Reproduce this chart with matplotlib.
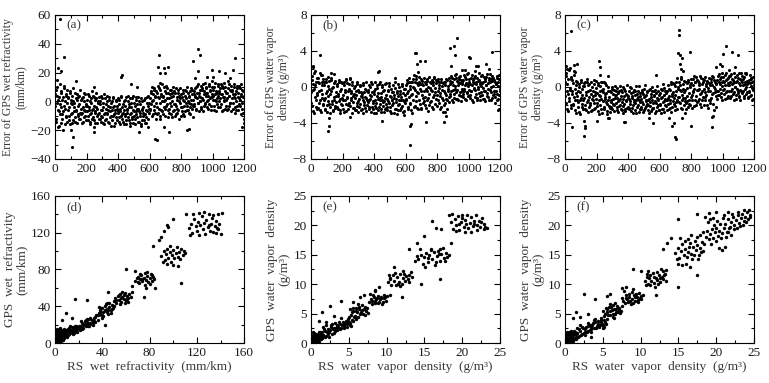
import matplotlib
matplotlib.use('Agg')
import matplotlib.pyplot as plt
import numpy as np
from matplotlib.ticker import MultipleLocator

plt.rcParams['font.family'] = ['Liberation Serif', 'DejaVu Serif']
plt.rcParams['font.size'] = 9

# sample numbers of the soundings
sample_no = np.arange(1, 1201, 4)
sample_no2 = np.arange(3, 1201, 4)

# (a) error of GPS wet refractivity, mm/km
err_a = [
    -3, 8, -12, 4, -18, 1, -7, 12, -2, -15,
    6, -9, 3, -20, 9, -5, 0, -11, 5, -14,
    -6, 2, -10, 7, -16, -1, -8, 4, -13, 0,
    -4, -11, 6, -7, 1, -15, 3, -9, -2, 8,
    -12, -5, 2, -8, -14, 0, -6, 5, -10, -3,
    -7, 1, -13, -4, 4, -9, -16, -1, -6, 7,
    -11, -3, 3, -15, -7, 2, -10, -5, 0, -12,
    -8, -2, -14, 4, -6, -11, -1, -9, -16, 2,
    -5, -12, 0, -8, -3, -15, 3, -7, -10, -1,
    -13, -4, 2, -9, -17, -6, 0, -11, -3, -8,
    -7, -14, 1, -5, -10, 4, -12, -2, -8, -16,
    -3, -9, 3, -13, -6, 0, -11, -4, -15, 2,
    -8, -1, -12, -6, 4, -10, -16, -3, -7, 1,
    -11, -5, 3, -14, -8, -2, -17, -6, 0, -10,
    -4, -13, 2, -9, -15, -1, -7, 4, -12, -5,
    2, -6, 7, -10, 0, 5, -3, 9, -8, 3,
    -1, 6, -9, 11, 2, -5, 8, -12, 4, 0,
    -7, 3, 10, -4, 1, -10, 6, -2, 9, -6,
    2, -8, 5, -3, 8, -11, 0, 4, -6, 7,
    -2, 9, -9, 3, -5, 6, 0, -12, 2, -4,
    5, -7, 1, 8, -3, -10, 4, -1, 7, -6,
    0, 6, -8, 3, -4, 9, -2, 5, -11, 1,
    7, -3, 4, 10, -6, 2, 12, -1, 6, 0,
    3, 11, -4, 8, 1, -7, 5, 13, -2, 6,
    9, 0, 4, -5, 12, 2, 7, -3, 10, 3,
    1, 8, -6, 5, 13, 0, 6, -2, 11, 4,
    7, -4, 2, 12, -7, 5, 9, 0, 3, -5,
    10, 1, -6, 6, 14, -3, 4, 8, -1, 11,
    2, 7, -5, 3, 12, -8, 5, 0, 9, -3,
    6, -2, 11, 1, -9, 4, 8, -5, 3, -12,
]
err_a2 = [
    5, -14, -1, 10, -6, -17, 3, -9, 7, -4,
    -12, 1, -7, 11, -3, -16, 4, -10, -1, 8,
    3, -13, -4, 6, -9, 1, -15, -2, 9, -7,
    -1, -14, 2, -6, 5, -10, -3, -12, 4, -8,
    1, -9, -15, 3, -4, -11, 6, -7, -2, -13,
    -3, 5, -10, -6, 0, -14, 2, -8, -12, 4,
    -5, -13, 1, -8, 6, -4, -15, -1, -9, 3,
    -12, 0, -6, -10, 2, -15, -4, 5, -8, -13,
    -2, -9, 4, -14, -6, 1, -11, -4, -17, 0,
    -6, -10, 3, -3, -15, -8, 1, -13, -5, 2,
    -11, -2, -16, -7, 3, -9, -4, -14, 0, -6,
    -10, 1, -16, -5, -8, 4, -13, -2, -9, -17,
    -4, -11, 2, -15, -7, -1, -12, 3, -9, -5,
    -2, -14, -7, 0, -10, -16, 2, -5, -13, -8,
    -9, 1, -15, -6, -11, 3, -3, -18, -8, -1,
    -5, 6, -2, 10, -9, 1, 8, -6, 4, -12,
    7, -4, 3, -8, 9, -1, -10, 5, -6, 12,
    4, -9, 0, 7, -5, 11, -3, 2, -11, 6,
    -5, 8, -1, -9, 3, 6, -7, 10, -2, -10,
    6, -3, 1, -8, 8, -6, 4, -1, 9, -10,
    -4, 3, -9, 6, 0, 8, -7, 2, -3, 10,
    -6, 4, -1, -9, 7, 1, -5, 8, -3, 5,
    -2, 9, 3, -5, 6, 11, -1, 4, -7, 8,
    0, -5, 9, 2, 12, -3, 7, -1, 4, 10,
    -4, 6, 1, 11, -2, 8, 3, -6, 5, 14,
    4, -3, 10, 1, -7, 7, 2, 12, -4, 6,
    0, 9, -2, 5, 11, -6, 3, 13, 1, 7,
    -3, 6, 2, 9, -5, 4, 12, -1, 7, -7,
    8, -1, 5, 10, -4, 2, 7, -6, 11, 3,
    -6, 2, 9, -3, 5, 12, -1, 7, -8, 4,
]
out_a = [
    (22, 23), (30, 57), (38, 21), (57, 31), (12, 15), (108, -32), (114, -25),
    (104, -20), (132, 14), (245, -21), (250, -18), (247, 10), (418, 17),
    (425, 18), (482, 12), (522, 10), (530, -21), (636, -26), (645, -27),
    (652, 24), (660, 32), (664, 20), (668, 13), (690, 23), (694, -18),
    (700, 20), (718, 24), (724, -21), (840, -20), (852, -19), (876, 28),
    (890, 16), (905, 36), (910, 21), (922, 32), (996, 22), (1000, 17),
    (1038, 21), (1080, 20), (1128, 22), (1142, 30), (1188, -18), (1196, -15),
    (965, 17), (1110, 16),
]

# (b) error of GPS water vapor density, g/m3
err_b = [
    -0.6, 1.2, -2.1, 0.3, -2.9, -0.2, 1.8, -1.4, 0.6, -2.5,
    -0.9, 1.0, -1.8, 0.4, -2.6, -0.3, 1.3, -1.2, 0.2, -2.0,
    -1.5, 0.5, -2.4, -0.7, 0.9, -2.8, -1.0, 0.1, -1.9, 0.7,
    -2.2, -0.4, 0.8, -1.6, -2.7, 0.0, -1.1, 1.4, -2.3, -0.6,
    -1.7, 0.3, -2.5, -0.8, 0.6, -1.3, -2.9, -0.2, -1.9, 0.4,
    -0.9, -2.4, 0.5, -1.5, -0.3, -2.7, 0.8, -1.2, -2.0, -0.5,
    -1.8, 0.9, -3.3, -0.7, -1.4, 0.2, -2.3, -1.0, -0.1, -2.6,
    -1.2, -0.4, -2.1, 0.3, -1.6, -2.8, -0.6, -1.9, 0.1, -1.0,
    -2.4, -0.8, -1.5, 0.4, -2.0, -1.1, -0.2, -2.7, -1.4, -0.5,
    -1.7, 0.2, -2.5, -0.9, -1.3, 0.5, -2.2, -0.6, -1.8, -2.9,
    -0.4, -1.5, 0.6, -2.3, -1.0, -0.1, -2.6, -1.2, 0.3, -1.9,
    -2.8, -0.7, -1.4, 0.2, -2.1, -1.6, -0.3, -2.5, -0.9, 0.4,
    -1.3, -2.2, -0.5, -1.8, 0.1, -2.7, -1.1, -0.2, -2.0, -1.5,
    -0.6, -2.9, -1.2, 0.5, -1.7, -2.4, -0.4, -1.0, -2.6, 0.0,
    -1.9, -0.8, -2.3, -1.4, 0.3, -2.8, -0.7, -1.6, -3.1, -0.2,
    0.2, -1.3, 0.8, -2.2, -0.4, 0.5, -1.8, 0.1, -2.6, -0.9,
    0.6, -1.5, 0.0, 1.3, -2.1, -0.3, 0.9, -1.0, 0.4, -2.4,
    -0.7, 1.1, -1.9, 0.3, -0.5, -2.3, 0.7, -1.2, 0.2, -1.6,
    0.5, -2.0, -0.2, 0.9, -1.4, -2.7, 0.0, -0.8, 0.6, -1.7,
    -0.3, 0.8, -2.2, 0.2, -1.1, 1.0, -0.6, -1.9, 0.4, -0.9,
    0.7, -1.5, -0.1, 0.5, -2.4, -0.7, 0.9, -1.2, 0.1, -2.8,
    -0.4, 0.6, -1.8, 0.2, -0.9, 0.8, -1.4, -0.2, 1.0, -1.1,
    0.3, -0.8, 1.2, -1.5, 0.5, -0.3, 0.9, -1.2, 0.1, 1.4,
    -0.6, 0.7, -1.3, 0.2, 1.1, -0.9, 0.4, -1.6, 0.8, -0.2,
    0.5, -1.1, 1.3, -0.4, 0.2, -1.5, 0.9, -0.7, 0.3, 1.6,
    -0.3, 0.6, -1.2, 1.0, -0.5, 0.2, -1.7, 0.8, -0.1, 0.4,
    1.2, -0.8, 0.3, -1.4, 0.7, -0.2, 1.5, -1.0, 0.5, -0.6,
    0.1, 1.3, -1.3, 0.6, -0.4, 0.9, -1.6, 0.2, 1.1, -0.7,
    0.4, -1.1, 0.8, -0.3, 1.4, -1.5, 0.0, 0.7, -0.9, 1.0,
    -0.5, 0.6, -1.8, 0.3, 1.2, -0.8, 0.1, -1.3, 0.9, -0.2,
]
err_b2 = [
    -1.8, 0.8, -0.3, -2.7, 1.5, -1.1, 0.2, -2.2, 1.0, -0.7,
    0.5, -2.3, -0.4, 1.6, -1.5, -2.8, 0.6, -0.8, -1.9, 0.9,
    0.2, -1.2, -2.6, 0.6, -0.5, -2.0, 1.1, -1.6, -0.2, -2.9,
    -0.8, 1.0, -1.9, -0.1, -2.6, 0.4, -1.4, -2.1, 0.7, -1.0,
    0.1, -2.2, -1.0, 0.8, -1.6, -0.4, -2.6, 0.5, -1.2, -2.0,
    -1.4, 0.2, -2.8, -0.6, 0.9, -1.9, -1.1, 0.4, -2.5, -0.2,
    0.3, -2.1, -1.2, -0.4, -2.9, 0.6, -1.7, -0.8, -2.3, 0.1,
    -2.6, -0.9, 0.5, -1.8, -0.3, -2.2, -1.3, 0.2, -2.6, -0.6,
    -1.1, -2.9, 0.2, -1.7, -0.6, -2.3, 0.5, -1.2, -2.0, -0.3,
    -0.6, -2.2, -1.5, 0.0, -2.8, -1.0, 0.3, -1.6, -2.4, -0.8,
    -2.1, -0.2, -1.8, -2.9, 0.2, -1.3, -0.7, -2.2, -1.5, 0.5,
    -1.1, -2.4, 0.0, -1.7, -0.5, -2.8, -1.2, 0.3, -1.9, -2.3,
    -2.6, -0.3, -1.6, 0.4, -2.2, -1.0, -2.9, -0.6, -1.4, 0.2,
    -1.8, -0.9, -2.5, -0.1, -1.3, -3.0, -0.7, -2.0, 0.3, -1.5,
    -0.4, -2.6, -1.1, 0.1, -2.1, -1.5, -0.2, -2.7, -0.9, -1.8,
    -1.5, 0.4, -0.7, -2.5, 1.0, -1.1, -0.2, -1.9, 0.6, -2.9,
    -0.8, 0.9, -2.2, -0.1, 0.5, -1.6, 1.2, -0.6, -2.3, 0.2,
    0.6, -1.4, -0.2, -2.5, 0.9, -0.9, 0.3, -1.8, 1.0, -0.4,
    -1.1, 0.3, -2.3, 0.7, -0.5, -1.2, 1.1, -2.0, -0.1, 0.4,
    -1.6, -0.4, 0.6, -2.5, 1.1, -0.9, -0.1, -1.3, 0.8, -2.1,
    -0.5, 0.9, -1.8, 0.2, -1.0, -2.2, 0.6, -0.3, -1.5, 0.4,
    -2.0, -0.7, 0.5, -1.3, 0.9, -2.5, 0.1, -0.5, -1.7, 0.7,
    -1.0, 0.6, -0.4, 1.0, -1.7, 0.2, -0.8, 1.3, -0.2, -1.3,
    1.0, -0.3, 0.5, -1.5, 0.9, -0.6, 1.2, -1.0, 0.3, -0.5,
    -0.8, 0.8, -0.2, 1.1, -1.3, 0.4, -0.6, 1.4, -1.0, 0.1,
    0.9, -0.9, 0.3, -0.4, 1.3, -1.4, 0.6, -0.2, 1.0, -1.1,
    -0.3, 0.5, -1.2, 1.0, 0.0, -0.7, 0.8, -1.5, 0.3, 1.2,
    -0.9, 0.4, -0.1, 1.1, -1.3, 0.7, -0.5, 0.2, -1.0, 1.4,
    -0.2, 1.0, -1.4, 0.5, -0.6, 0.9, -1.2, 1.2, 0.1, -0.8,
    0.8, -1.1, 0.3, -0.5, 1.0, -1.5, 0.5, -0.9, 1.3, -0.4,
]
out_b = [
    (15, 2.3), (10, 2.2), (60, 3.6), (70, 1.3), (108, -4.9), (115, -4.3),
    (112, -3.5), (130, 1.6), (245, 1.0), (430, 1.8), (425, 1.7), (452, -3.8),
    (530, 1.0), (628, -4.3), (634, -4.1), (630, -6.5), (660, 3.8), (665, 3.8),
    (670, 2.5), (690, 2.9), (680, 1.7), (722, 2.9), (730, -3.9), (842, -3.9),
    (855, -3.2), (850, -2.8), (880, 4.3), (905, 4.5), (916, 3.6), (925, 5.4),
    (890, 2.3), (960, 1.9), (975, 1.9), (1000, 3.3), (1008, 3.2), (1040, 1.8),
    (1060, 2.3), (1110, 2.6), (1150, 3.9), (1130, 2.0), (1185, -2.6),
    (1195, -2.5), (1045, 2.3),
]

# (c) error of GPS water vapor density, g/m3 (second method)
err_c = [
    0.6, -1.8, 1.5, -0.4, -2.7, 0.9, -1.2, 2.1, -0.1, -2.3,
    1.1, -0.8, -2.0, 0.4, 1.8, -1.5, -0.2, -2.9, 0.7, -1.0,
    -0.5, -2.2, 0.3, -1.4, -3.0, 0.8, -0.9, -1.9, 0.1, -2.5,
    -1.2, 0.5, -2.4, -0.6, 0.9, -1.7, -2.8, 0.2, -1.1, -0.3,
    -2.0, 0.6, -1.3, -2.6, -0.4, 0.3, -1.8, -0.9, -2.3, 0.7,
    -0.7, -2.1, 0.4, -1.5, -3.0, 0.1, -1.0, -2.4, 0.6, -0.3,
    -1.6, 0.5, -2.2, -0.8, -1.3, 0.2, -2.7, -1.9, -0.5, -3.4,
    -1.1, -2.3, -0.6, -1.7, 0.0, -2.5, -1.3, -0.3, -2.0, -0.9,
    -1.8, -0.4, -2.6, -1.2, -0.7, -2.1, -1.5, 0.1, -2.4, -1.0,
    -0.6, -2.9, -1.3, -0.2, -1.9, -2.5, -0.8, -1.4, 0.2, -2.2,
    -1.0, -0.5, -2.3, -1.6, -0.1, -2.7, -1.2, -0.6, -2.0, -1.4,
    -2.6, -0.9, -1.5, 0.1, -2.2, -1.1, -0.4, -2.8, -1.7, -0.7,
    -1.3, -2.4, -0.3, -1.9, -0.8, -2.6, -1.0, 0.2, -2.1, -1.5,
    -0.6, -2.0, -1.4, -2.9, -0.2, -1.7, -1.1, -2.5, -0.5, -1.8,
    -2.3, -0.9, -1.6, -0.3, -2.7, -1.2, 0.1, -2.0, -1.4, -2.6,
    -0.7, -1.9, -0.2, -2.4, -1.1, 0.3, -1.6, -2.8, -0.5, -1.3,
    -2.1, -0.4, -1.5, 0.2, -2.5, -1.0, -0.3, -1.8, 0.5, -2.2,
    -0.8, 0.4, -1.9, -1.2, 0.1, -2.6, -0.5, 1.0, -1.4, -0.2,
    0.6, -1.7, -0.3, -2.3, 0.9, -0.9, -1.5, 0.3, -2.0, -0.6,
    -1.2, 0.5, -2.4, -0.1, -1.6, 0.8, -0.7, -1.9, 0.2, -1.1,
    0.4, -1.4, -0.5, 0.9, -2.1, -0.2, 0.6, -1.0, 1.1, -1.7,
    -0.3, 0.7, -1.3, 0.2, -0.8, 1.0, -2.2, -0.4, 0.5, -1.1,
    0.8, -0.6, -1.5, 0.3, -0.9, 0.6, -2.3, -0.1, 0.4, -1.8,
    -0.4, 0.9, -1.2, 0.2, -0.7, 1.1, -2.6, -0.2, 0.5, -1.0,
    0.3, -0.5, 1.2, -0.9, 0.6, -0.2, 0.9, -1.1, 0.1, 1.5,
    -0.3, 0.7, -0.8, 1.3, 0.2, -0.6, 0.9, -1.2, 0.4, 1.0,
    -0.5, 0.6, 1.2, -1.0, 0.3, -0.2, 0.8, -1.4, 0.5, 1.1,
    0.0, -0.9, 0.7, 1.3, -0.4, 0.4, -1.1, 0.9, -0.3, 1.5,
    0.6, -0.7, 0.2, 1.1, -1.0, 0.5, -0.2, 1.4, -0.6, 0.3,
    -1.2, 0.8, -0.4, 0.4, -0.9, 1.0, -0.1, 0.6, -1.3, 0.2,
]
err_c2 = [
    -1.0, 1.2, -2.5, 0.3, -0.8, 1.9, -1.6, -0.3, 0.9, -2.0,
    -0.4, 0.8, -1.9, -1.1, 1.3, -2.6, 0.2, -0.7, -1.4, 0.5,
    -1.7, 0.0, -2.8, -0.6, 0.6, -1.2, -2.2, -0.2, -1.5, 0.4,
    0.1, -2.0, -0.9, -2.6, 0.6, -1.4, -0.5, -2.2, 0.3, -1.8,
    -0.8, -2.7, 0.0, -1.5, -1.0, 0.8, -2.5, -0.6, -1.3, -0.1,
    -1.8, 0.2, -2.7, -0.9, -0.4, -2.0, 0.5, -1.3, -2.9, -0.6,
    -0.2, -2.4, -1.1, 0.4, -1.7, -0.7, -3.0, 0.0, -1.4, -2.1,
    -2.8, -0.5, -1.5, -2.2, -0.2, -1.9, -0.8, -2.7, -1.2, 0.1,
    -0.9, -2.2, -0.1, -1.6, -2.8, -0.5, -1.3, -2.0, -0.3, -2.6,
    -1.7, 0.0, -2.1, -1.0, -2.7, -0.4, -1.6, -2.3, -0.9, -1.2,
    -2.5, -1.3, 0.0, -1.9, -0.7, -2.3, -1.0, -2.9, -0.3, -1.7,
    -0.4, -1.8, -2.9, -0.8, -1.3, -2.0, 0.1, -1.5, -2.4, -1.0,
    -2.2, -0.6, -1.7, -2.8, -0.2, -1.1, -2.3, -0.9, -1.6, -0.4,
    -1.9, -2.6, -0.3, -1.3, -2.1, -0.8, -2.7, -1.5, 0.0, -2.3,
    -1.0, -0.4, -2.9, -1.8, -0.7, -2.2, -1.3, -0.5, -2.6, -0.9,
    -2.0, -1.2, -2.9, -0.3, -1.7, -2.4, -0.9, -0.1, -2.0, -1.5,
    -0.7, -2.6, -1.2, -1.9, -0.2, -2.3, -1.4, 0.3, -2.8, -1.0,
    -1.6, -0.6, 0.3, -2.1, -0.9, -1.7, 0.6, -2.4, -1.1, 0.0,
    -1.1, 0.2, -1.8, -0.5, 1.1, -2.5, -0.2, -1.2, 0.7, -1.6,
    -0.3, -1.8, 0.4, -1.0, -2.2, 0.6, -1.4, 0.0, -2.0, 0.9,
    -0.9, -2.3, 0.2, -0.6, 1.2, -1.5, 0.5, -2.0, -0.3, 0.8,
    -1.6, 0.4, -0.2, -1.9, 1.2, -0.7, 0.3, -1.4, 0.9, -2.0,
    -0.2, 1.1, -1.1, 0.1, -2.0, 0.7, -0.5, 1.0, -1.4, 0.2,
    -1.5, 0.5, -0.8, 1.2, -1.9, 0.0, 0.8, -0.6, -2.2, 0.4,
    -1.3, 0.8, -0.4, 1.4, -0.9, 0.3, 1.1, -0.7, 0.6, -1.5,
    1.1, -0.2, 0.5, -1.3, 0.8, 1.6, -0.5, 0.2, -1.0, 1.2,
    0.2, -1.2, 1.4, -0.4, 0.9, -0.8, 0.4, 1.5, -0.6, 0.0,
    -1.3, 0.6, -0.2, 1.0, -0.7, 1.6, -1.0, 0.2, 0.8, -0.5,
    1.2, -0.4, 0.9, -1.2, 0.3, 1.5, -0.8, 0.0, 0.7, -1.1,
    0.5, -0.6, 1.3, -1.0, 0.1, 0.9, -1.4, 1.1, -0.3, 0.7,
]
out_c = [
    (8, 2.3), (12, 2.0), (40, 6.2), (45, -4.5), (60, 2.4), (65, 1.7),
    (75, 2.6), (120, -5.4), (125, -4.3), (130, -4.6), (118, -3.8), (200, -3.8),
    (218, 2.9), (220, 2.2), (222, 1.3), (270, 1.2), (270, -3.5), (375, -3.9),
    (380, -3.9), (530, -3.5), (560, -4.0), (578, 1.3), (660, -3.4),
    (680, -4.3), (690, -4.0), (700, -5.6), (705, -5.8), (720, 3.8),
    (722, 6.3), (726, 5.8), (728, 3.6), (732, 2.6), (738, 2.0), (745, 3.2),
    (750, 1.8), (740, -3.5), (790, 3.9), (800, -4.3), (760, -2.9),
    (930, -4.4), (935, -3.3), (940, -3.2), (960, 2.2), (985, 2.6),
    (995, 2.3), (1000, 3.7), (1020, 4.5), (1040, 1.9), (1060, 3.9),
    (1080, 2.2), (1100, 3.5), (1150, 1.6), (1110, -1.4),
]

# (d) RS vs GPS wet refractivity, mm/km  (rs, gps)
pts_d = [
    (0.5, 2), (1, 5), (1.5, 1), (2, 8), (2.5, 3), (3, 6), (3.5, 0.5), (4, 10),
    (4.5, 4), (5, 7), (1, 9), (2, 12), (3, 2), (0.5, 6), (1.5, 4), (2.5, 10),
    (3.5, 8), (4, 1.5), (5, 11), (5.5, 5), (6, 9), (6.5, 3), (7, 12), (7.5, 7),
    (8, 10), (0.8, 3), (1.8, 7), (2.8, 5), (3.8, 11), (4.8, 2.5), (5.8, 13),
    (6.8, 6), (7.8, 9), (0.3, 1), (1.2, 2.5), (2.2, 1.5), (3.2, 4), (4.2, 6),
    (5.2, 3), (6.2, 8), (7.2, 4.5), (8.5, 13), (9, 8), (9.5, 11), (1, 13),
    (2, 15), (3, 14), (0.5, 4), (1.5, 11), (2.5, 7), (3.5, 3), (4.5, 9),
    (5.5, 14), (6.5, 11), (7.5, 5), (8, 15), (9, 12), (10, 9), (0.2, 8), (4, 16),
    (10, 13), (11, 9), (12, 16), (13, 11), (14, 14), (15, 10), (16, 17),
    (17, 13), (18, 15), (19, 12), (11, 15), (12, 10), (13, 18), (14, 12),
    (15, 15), (16, 11), (17, 18), (18, 14), (19, 17), (20, 15), (10, 7),
    (12, 13), (14, 17), (16, 14), (18, 19), (20, 18), (9, 14), (13, 14),
    (15, 12), (17, 16),
    (21, 19), (22, 17), (23, 22), (24, 20), (25, 24), (26, 18), (27, 23),
    (28, 21), (29, 26), (30, 22), (31, 25), (32, 20), (33, 27), (34, 23),
    (22, 24), (24, 16), (26, 25), (28, 19), (30, 27), (32, 23), (34, 28),
    (21, 14), (25, 21), (27, 26), (29, 18), (31, 21), (33, 24), (35, 30),
    (23, 15), (36, 25),
    (37, 33), (38, 36), (39, 31), (40, 38), (41, 34), (42, 40), (43, 35),
    (44, 37), (45, 32), (46, 39), (47, 36), (48, 41), (36, 30), (39, 38),
    (41, 29), (43, 42), (45, 36), (47, 33), (49, 38), (38, 34), (40, 31),
    (42, 36), (44, 34), (46, 43), (48, 37), (40, 27), (42, 20), (44, 44),
    (37, 39), (50, 40),
    (50, 46), (51, 49), (52, 43), (53, 51), (54, 47), (55, 53), (56, 45),
    (57, 50), (58, 48), (59, 54), (60, 46), (61, 51), (62, 49), (63, 53),
    (64, 50), (52, 47), (55, 42), (57, 55), (59, 44), (61, 48), (54, 52),
    (56, 49), (58, 52), (62, 45), (65, 55),
    (68, 68), (70, 72), (71, 65), (72, 70), (73, 74), (74, 67), (75, 71),
    (76, 76), (77, 69), (78, 73), (79, 66), (80, 71), (81, 75), (82, 68),
    (83, 72), (70, 66), (72, 75), (74, 70), (76, 63), (78, 77), (80, 64),
    (82, 74), (84, 70), (69, 71), (77, 60),
    (90, 95), (92, 100), (93, 90), (94, 97), (95, 102), (96, 93), (97, 99),
    (98, 88), (99, 96), (100, 101), (101, 92), (102, 98), (103, 104),
    (104, 94), (105, 99), (106, 91), (107, 102), (108, 96), (109, 100),
    (110, 98), (91, 88), (95, 86), (100, 85), (104, 84), (97, 105),
    (113, 125), (115, 130), (116, 120), (118, 135), (119, 127), (120, 122),
    (121, 132), (122, 118), (123, 128), (124, 138), (125, 124), (126, 131),
    (127, 119), (128, 134), (129, 126), (130, 140), (131, 122), (132, 129),
    (133, 136), (134, 121), (135, 127), (136, 133), (137, 125), (138, 140),
    (139, 130), (140, 119), (117, 140), (122, 141), (126, 142), (130, 128),
    (134, 139), (136, 120), (138, 124), (141, 141), (114, 118),
    (17, 48), (27, 47), (9, 33), (6, 25), (14, 27), (45, 55), (60, 80),
    (68, 78), (83, 105), (90, 115), (92, 122), (95, 128), (100, 135),
    (111, 140), (107, 65), (75, 50), (85, 60), (96, 126), (88, 112), (65, 62),
]

# (e) RS vs GPS water vapor density, g/m3
pts_e = [
    (0.1, 0.2), (0.2, 0.6), (0.3, 1.0), (0.4, 0.3), (0.5, 1.4), (0.6, 0.7),
    (0.7, 0.1), (0.8, 1.1), (0.9, 0.5), (1.0, 1.6), (0.15, 0.9), (0.25, 1.3),
    (0.35, 0.4), (0.45, 1.7), (0.55, 0.2), (0.65, 1.2), (0.75, 0.8),
    (0.85, 0.3), (0.95, 1.4), (1.1, 0.6), (1.2, 1.0), (1.3, 1.5), (1.4, 0.8),
    (1.5, 1.2), (0.1, 1.2), (0.2, 0.1), (0.3, 0.7), (0.5, 0.5), (0.7, 1.6),
    (0.9, 0.9), (1.1, 1.8), (1.3, 0.7), (1.5, 1.8), (0.4, 1.1), (0.6, 0.2),
    (0.8, 0.4), (1.0, 0.2), (1.2, 1.9), (0.05, 0.5), (0.3, 1.8),
    (1.6, 1.4), (1.8, 2.0), (2.0, 1.2), (2.2, 2.4), (2.4, 1.8), (2.6, 2.8),
    (2.8, 1.6), (3.0, 2.5), (3.2, 2.0), (3.4, 2.9), (1.7, 2.3), (1.9, 1.0),
    (2.1, 1.9), (2.3, 1.5), (2.5, 2.2), (2.7, 3.1), (2.9, 2.3), (3.1, 1.7),
    (3.3, 2.6), (3.5, 2.2), (1.6, 2.7), (2.0, 3.0), (2.4, 1.1), (2.8, 3.3),
    (3.2, 3.4),
    (3.6, 2.8), (3.8, 3.3), (4.0, 2.6), (4.2, 3.5), (4.4, 3.0), (4.6, 3.8),
    (4.8, 3.2), (5.0, 3.6), (5.2, 3.0), (5.4, 3.9), (3.7, 3.6), (3.9, 2.4),
    (4.1, 3.1), (4.3, 2.7), (4.5, 3.4), (4.7, 2.8), (4.9, 4.0), (5.1, 3.4),
    (5.3, 2.9), (5.5, 3.7), (3.5, 3.1), (4.0, 4.2), (4.4, 2.5), (4.8, 3.6),
    (5.0, 4.4),
    (5.3, 4.8), (5.5, 5.5), (5.7, 4.5), (5.9, 5.9), (6.1, 5.2), (6.3, 6.1),
    (6.5, 4.9), (6.7, 5.6), (6.9, 5.0), (7.1, 6.2), (7.3, 5.4), (5.4, 5.2),
    (5.6, 6.0), (5.8, 4.6), (6.0, 5.4), (6.2, 4.4), (6.4, 5.8), (6.6, 5.3),
    (6.8, 6.4), (7.0, 5.7), (7.2, 4.8), (7.4, 6.0), (6.2, 6.6), (5.2, 5.8),
    (7.6, 5.1),
    (7.7, 6.9), (7.9, 7.5), (8.1, 6.6), (8.3, 7.8), (8.5, 7.1), (8.7, 7.6),
    (8.9, 6.8), (9.1, 7.4), (9.3, 7.9), (9.5, 7.0), (9.7, 7.6), (9.9, 7.2),
    (8.0, 7.2), (8.2, 8.1), (8.4, 6.8), (8.6, 7.4), (8.8, 8.0), (9.0, 7.0),
    (9.2, 7.7), (9.4, 6.7), (9.6, 8.2), (9.8, 7.9), (10.0, 8.0), (7.8, 8.3),
    (8.5, 8.8),
    (10.2, 10.3), (10.4, 11.0), (10.6, 9.8), (10.8, 11.5), (11.0, 10.6),
    (11.2, 9.9), (11.4, 11.2), (11.6, 10.4), (11.8, 11.8), (12.0, 10.1),
    (12.2, 11.0), (12.4, 10.5), (12.6, 11.4), (12.8, 10.8), (13.0, 11.6),
    (10.5, 10.8), (11.1, 11.9), (11.7, 9.7), (12.3, 11.7), (12.9, 10.3),
    (13.2, 12.0), (13.4, 11.2), (10.3, 11.6), (11.5, 10.0), (12.1, 12.3),
    (14.2, 14.3), (14.5, 15.0), (14.8, 13.5), (15.0, 14.6), (15.2, 15.3),
    (15.4, 13.8), (15.6, 14.9), (15.8, 16.0), (16.0, 14.2), (16.2, 15.4),
    (16.4, 13.3), (16.6, 14.8), (16.8, 15.6), (17.0, 14.0), (17.2, 15.1),
    (17.4, 16.2), (17.6, 14.5), (17.8, 15.3), (18.0, 14.7), (14.0, 14.8),
    (14.4, 16.0), (15.1, 12.9), (15.9, 15.8), (16.5, 13.8), (17.1, 16.0),
    (17.7, 13.9), (18.2, 15.0), (13.8, 14.0), (16.9, 15.2), (15.5, 14.4),
    (18.5, 20.5), (18.8, 19.4), (19.0, 21.0), (19.2, 20.0), (19.4, 21.6),
    (19.6, 19.2), (19.8, 20.6), (20.0, 21.2), (20.2, 19.8), (20.4, 20.9),
    (20.6, 21.8), (20.8, 19.5), (21.0, 20.4), (21.2, 21.4), (21.4, 19.9),
    (21.6, 20.7), (21.8, 21.7), (22.0, 20.1), (22.2, 20.8), (22.4, 19.7),
    (22.6, 21.2), (22.8, 20.3), (23.0, 19.8), (19.1, 19.0), (19.9, 21.8),
    (20.5, 20.2), (21.1, 18.9), (21.9, 19.2), (22.5, 20.6), (18.7, 21.9),
    (20.3, 18.9), (21.5, 20.3), (22.9, 19.3), (19.5, 20.3), (23.2, 19.5),
    (1.5, 5.2), (2.5, 6.3), (4.0, 7.2), (1.0, 3.8), (2.0, 3.5), (3.0, 4.6),
    (5.5, 7.0), (6.5, 7.8), (7.0, 8.2), (8.5, 9.0), (9.0, 9.6), (11.0, 13.0),
    (12.0, 7.8), (13.0, 16.0), (14.5, 10.0), (14.0, 17.0), (15.0, 18.2),
    (16.0, 20.8), (16.5, 19.5), (17.0, 10.8), (17.2, 19.3), (18.5, 17.0),
    (18.2, 21.8), (6.0, 4.0), (10.5, 8.2),
]

# (f) RS vs GPS water vapor density, g/m3 (second method)
pts_f = [
    (0.1, 0.4), (0.2, 1.0), (0.3, 0.2), (0.4, 1.5), (0.5, 0.8), (0.6, 0.3),
    (0.7, 1.2), (0.8, 0.6), (0.9, 1.7), (1.0, 0.9), (0.15, 0.1), (0.25, 0.7),
    (0.35, 1.3), (0.45, 0.5), (0.55, 1.8), (0.65, 1.0), (0.75, 0.4),
    (0.85, 1.4), (0.95, 0.2), (1.1, 1.3), (1.2, 0.7), (1.3, 1.9), (1.4, 1.1),
    (1.5, 0.6), (0.1, 1.6), (0.2, 0.5), (0.3, 1.9), (0.5, 1.1), (0.7, 0.6),
    (0.9, 1.2), (1.1, 0.4), (1.3, 1.5), (1.5, 1.6), (0.4, 0.9), (0.6, 1.6),
    (0.8, 2.0), (1.0, 1.5), (1.2, 2.1), (0.05, 0.9), (0.3, 0.6),
    (1.6, 1.7), (1.8, 1.2), (2.0, 2.1), (2.2, 1.6), (2.4, 2.5), (2.6, 1.9),
    (2.8, 2.7), (3.0, 2.0), (3.2, 3.0), (3.4, 2.4), (1.7, 1.0), (1.9, 2.4),
    (2.1, 1.4), (2.3, 2.8), (2.5, 1.7), (2.7, 2.3), (2.9, 1.8), (3.1, 2.9),
    (3.3, 2.2), (3.5, 3.1), (1.6, 2.5), (2.0, 3.1), (2.6, 1.3), (3.0, 3.4),
    (3.4, 1.9),
    (3.6, 3.0), (3.8, 2.6), (4.0, 3.5), (4.2, 2.9), (4.4, 3.8), (4.6, 3.1),
    (4.8, 3.6), (5.0, 3.0), (5.2, 3.9), (5.4, 3.3), (3.7, 3.4), (3.9, 3.9),
    (4.1, 2.5), (4.3, 3.3), (4.5, 2.8), (4.7, 3.9), (4.9, 3.3), (5.1, 2.7),
    (5.3, 3.6), (5.5, 4.1), (3.5, 2.7), (4.0, 4.1), (4.4, 3.0), (4.8, 4.3),
    (5.0, 2.5),
    (5.3, 5.0), (5.5, 5.7), (5.7, 4.7), (5.9, 5.4), (6.1, 6.1), (6.3, 5.0),
    (6.5, 5.8), (6.7, 5.3), (6.9, 6.3), (7.1, 5.6), (7.3, 5.1), (5.4, 6.0),
    (5.6, 5.3), (5.8, 6.2), (6.0, 4.8), (6.2, 5.6), (6.4, 6.5), (6.6, 4.9),
    (6.8, 5.7), (7.0, 5.2), (7.2, 6.0), (7.4, 5.5), (6.0, 6.7), (5.2, 4.6),
    (6.6, 6.8), (5.0, 5.4), (7.5, 6.3), (6.3, 4.5),
    (7.7, 7.2), (7.9, 6.8), (8.1, 7.7), (8.3, 7.0), (8.5, 7.9), (8.7, 6.7),
    (8.9, 7.5), (9.1, 8.1), (9.3, 7.2), (9.5, 7.8), (9.7, 6.9), (9.9, 7.6),
    (10.1, 8.0), (8.0, 8.2), (8.2, 7.4), (8.4, 8.4), (8.6, 7.2), (8.8, 8.6),
    (9.0, 6.8), (9.2, 7.9), (9.4, 8.3), (9.6, 7.3), (9.8, 8.5), (10.0, 7.4),
    (10.3, 8.2), (7.6, 7.6), (7.8, 8.8), (9.0, 9.2),
    (10.6, 10.5), (10.8, 11.2), (11.0, 10.0), (11.2, 11.5), (11.4, 10.6),
    (11.6, 11.9), (11.8, 10.2), (12.0, 11.1), (12.2, 10.7), (12.4, 11.6),
    (12.6, 10.4), (12.8, 11.3), (13.0, 10.9), (13.2, 11.7), (11.1, 11.0),
    (11.3, 9.8), (11.7, 11.3), (12.1, 12.1), (12.5, 11.0), (12.9, 12.2),
    (13.3, 10.6), (10.7, 9.9), (11.9, 9.6), (12.7, 12.5), (13.4, 12.4),
    (10.9, 11.7), (12.3, 10.0), (13.1, 11.5),
    (14.6, 15.3), (14.9, 16.2), (15.1, 14.5), (15.3, 15.6), (15.5, 16.8),
    (15.7, 15.0), (15.9, 16.0), (16.1, 14.6), (16.3, 15.5), (16.5, 17.0),
    (16.7, 15.2), (16.9, 16.3), (17.1, 14.9), (17.3, 15.8), (17.5, 16.6),
    (17.7, 15.0), (17.9, 16.1), (18.1, 17.2), (18.3, 15.6), (15.0, 13.5),
    (15.4, 13.2), (16.0, 13.4), (16.4, 16.4), (16.8, 14.2), (17.2, 17.4),
    (17.6, 14.3), (18.0, 15.4), (18.4, 16.8), (14.8, 14.2), (15.8, 17.3),
    (16.6, 18.3), (17.4, 18.0), (15.2, 17.8), (16.2, 17.6), (17.8, 18.4),
    (18.6, 18.0), (18.8, 19.0), (19.0, 17.6), (19.2, 18.5), (19.4, 19.3),
    (19.6, 17.9), (19.8, 18.8), (20.0, 19.6), (20.2, 18.2), (20.4, 19.1),
    (20.6, 17.8), (20.8, 18.7), (21.0, 19.5), (19.1, 21.0), (19.5, 21.2),
    (18.5, 21.5), (18.9, 20.5), (20.1, 20.8), (20.5, 20.2), (20.9, 21.3),
    (19.3, 16.8), (20.3, 16.2), (20.7, 15.8), (21.1, 16.4), (18.2, 18.9),
    (19.7, 20.0), (21.3, 18.1), (21.5, 18.9), (21.7, 19.6), (19.9, 17.3),
    (21.2, 20.2), (21.5, 21.0), (21.8, 19.8), (22.0, 20.6), (22.2, 21.4),
    (22.4, 20.0), (22.6, 20.9), (22.8, 21.7), (23.0, 20.4), (23.2, 21.2),
    (23.4, 22.0), (23.6, 20.8), (23.8, 21.5), (24.0, 22.2), (24.2, 21.0),
    (24.4, 21.8), (21.4, 18.8), (21.9, 18.3), (22.3, 19.3), (22.7, 19.6),
    (23.1, 19.9), (23.5, 20.1), (23.9, 20.6), (24.3, 22.6), (22.1, 22.0),
    (22.9, 22.3), (23.7, 22.6), (24.5, 21.4), (21.0, 21.8), (21.6, 22.2),
    (1.5, 5.2), (2.5, 8.3), (1.0, 4.2), (2.0, 4.5), (3.0, 5.0), (4.0, 7.5),
    (5.5, 8.0), (6.0, 8.4), (7.5, 9.3), (8.0, 9.5), (9.0, 12.5), (10.0, 12.3),
    (11.0, 12.2), (12.0, 8.2), (13.0, 16.0), (13.5, 17.0), (14.0, 17.8),
    (15.0, 21.0), (15.0, 9.5), (17.5, 11.5), (17.5, 22.0), (16.5, 13.0),
    (19.0, 22.1), (20.0, 22.2), (3.5, 1.0), (5.0, 3.0), (6.5, 4.2),
]

fig = plt.figure(figsize=(7.69, 3.83), dpi=100)

# axes boxes in figure fractions
col_left = [0.0715, 0.4044, 0.7347]
col_w = 0.246
top_row = (0.585, 0.376)
bot_row = (0.1044, 0.384)

label_col = '#3a3a3a'
dot_top = dict(s=5, c='black', marker='o', linewidths=0)
dot_bot = dict(s=6, c='black', marker='o', linewidths=0)


def style(ax, xlim, xmaj, ylim, ymaj):
    ax.set_xlim(*xlim)
    ax.set_ylim(*ylim)
    ax.xaxis.set_major_locator(MultipleLocator(xmaj))
    ax.xaxis.set_minor_locator(MultipleLocator(xmaj / 2))
    ax.yaxis.set_major_locator(MultipleLocator(ymaj))
    ax.yaxis.set_minor_locator(MultipleLocator(ymaj / 2))
    ax.tick_params(which='both', direction='in', top=True, right=True,
                   labelsize=9.5, labelcolor='#1a1a1a', width=0.8, pad=3)
    ax.tick_params(which='major', length=4)
    ax.tick_params(which='minor', length=2)
    for sp in ax.spines.values():
        sp.set_linewidth(0.8)


# top row: errors vs sample number
top_data = [(err_a, err_a2, out_a), (err_b, err_b2, out_b),
            (err_c, err_c2, out_c)]
top_ylim = [(-40, 60), (-8, 8), (-8, 8)]
top_ymaj = [20, 4, 4]
top_ylabel = ['Error of GPS wet refractivity\n(mm/km)',
              'Error of GPS water vapor\ndensity (g/m³)',
              'Error of GPS water vapor\ndensity (g/m³)']
top_tag = ['(a)', '(b)', '(c)']

for i in range(3):
    ax = fig.add_axes([col_left[i], top_row[0], col_w, top_row[1]])
    err, err2, outl = top_data[i]
    ax.scatter(sample_no, err, **dot_top)
    ax.scatter(sample_no2, err2, **dot_top)
    ox = [p[0] for p in outl]
    oy = [p[1] for p in outl]
    ax.scatter(ox, oy, **dot_top)
    style(ax, (0, 1200), 200, top_ylim[i], top_ymaj[i])
    ax.set_ylabel(top_ylabel[i], color=label_col, fontsize=8.5,
                  labelpad=2, linespacing=1.15)
    ax.text(0.06, 0.93, top_tag[i], transform=ax.transAxes, va='center',
            ha='left', fontsize=9.5, color=label_col)

# bottom row: GPS vs RS
bot_data = [pts_d, pts_e, pts_f]
bot_lim = [(0, 160), (0, 25), (0, 25)]
bot_maj = [40, 5, 5]
bot_xlabel = ['RS  wet  refractivity  (mm/km)',
              'RS  water  vapor  density  (g/m³)',
              'RS  water  vapor  density  (g/m³)']
bot_ylabel = ['GPS  wet  refractivity\n(mm/km)',
              'GPS  water  vapor  density\n(g/m³)',
              'GPS  water  vapor  density\n(g/m³)']
bot_tag = ['(d)', '(e)', '(f)']

for i in range(3):
    ax = fig.add_axes([col_left[i], bot_row[0], col_w, bot_row[1]])
    pts = np.array(bot_data[i])
    ax.scatter(pts[:, 0], pts[:, 1], **dot_bot)
    style(ax, bot_lim[i], bot_maj[i], bot_lim[i], bot_maj[i])
    ax.set_xlabel(bot_xlabel[i], color=label_col, fontsize=9.5, labelpad=1)
    ax.set_ylabel(bot_ylabel[i], color=label_col, fontsize=9.5,
                  labelpad=2, linespacing=1.05)
    ax.text(0.06, 0.92, bot_tag[i], transform=ax.transAxes, va='center',
            ha='left', fontsize=9.5, color=label_col)

fig.savefig('out.png', dpi=100)
